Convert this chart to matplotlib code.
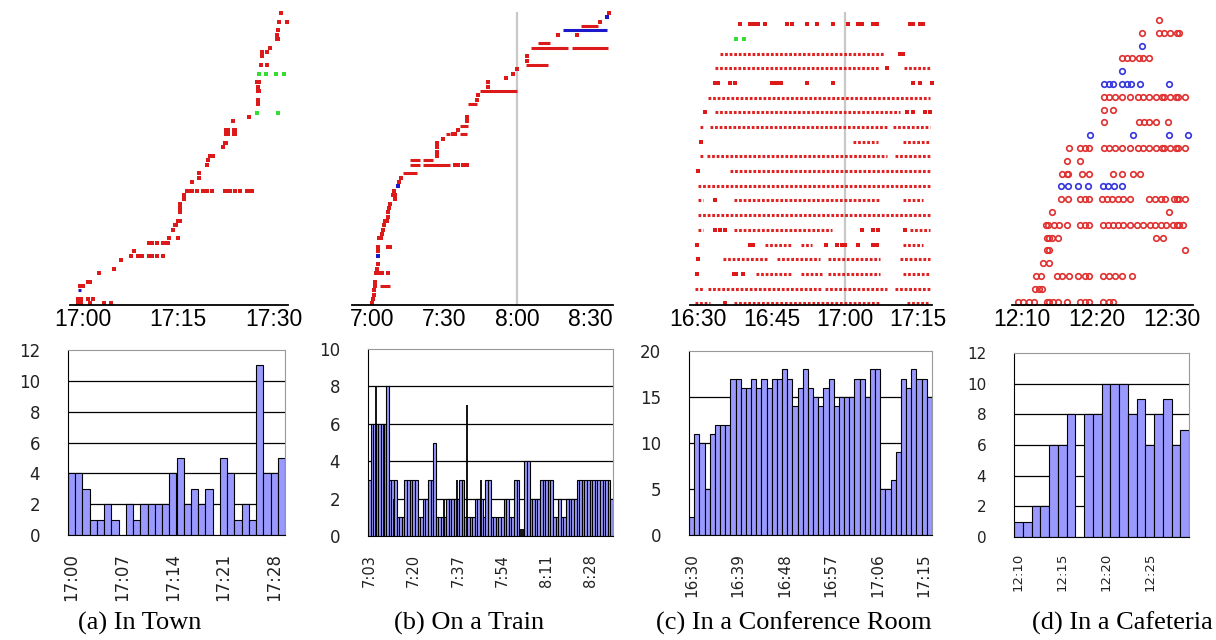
import matplotlib
matplotlib.use("Agg")
import matplotlib.pyplot as plt

# ---------------- data ----------------
# top row: node traces, x = minutes after first label, y = node row
town_rows = [
    (0, [-0.9, -0.3, 1.1, 3.3, 4.4]), (1, [-0.9, -0.3, 0.8, 1.5]),
    (4, [-0.5, -0.1]), (5, [0.8, 1.1]), (7, [2.5]), (8, [4.8]), (10, [6.0]),
    (11, [7.5, 8.7, 8.9, 9.2, 10.3, 10.8, 11.6, 12.5]), (12, [8.0]),
    (14, [10.3, 10.8, 11.6, 12.5, 12.9, 13.3]), (15, [13.6, 14.9]), (17, [14.1]),
    (18, [14.5, 14.7]), (19, [14.9, 15.3]), (21, [15.2]), (22, [15.2]), (23, [15.3]),
    (24, [15.9]), (25, [15.9]),
    (26, [16.3, 16.7, 17.1, 17.9, 18.9, 19.5, 20.3, 22.4, 22.8, 23.2, 24.0, 24.7, 25.9, 26.3, 26.6]),
    (28, [17.1]), (29, [18.2]), (30, [18.2]), (32, [19.5]), (33, [19.7]),
    (34, [20.0, 20.3, 20.5]), (36, [22.1]), (37, [22.3, 22.5]),
    (39, [22.5, 22.8, 23.7, 24.0]), (40, [22.5, 22.8, 23.7, 24.0]), (42, [23.6]),
    (43, [26.2]), (46, [27.5]), (47, [27.5]), (49, [27.5, 27.7]), (50, [27.5]),
    (51, [27.4, 27.8]), (55, [28.1, 29.0]), (57, [28.2]), (58, [28.2, 29.0]),
    (59, [29.4]), (61, [30.5, 30.8]), (62, [30.5]), (63, [30.8]), (65, [30.9, 32.1]),
    (67, [31.2]),
]
town_green = [(44, [27.4, 30.8]), (53, [27.8, 28.9, 30.4, 31.7])]
town_blue_runs = [(3, -0.9, -0.3)]

train_pts_t = [0.3, 0.7, 1.0, 1.1, 1.4, 1.4, 1.6, 2.1, 2.5, 2.5, 2.5, 3.2, 3.7, 4.4, 4.5,
               5.2, 5.5, 6.2, 6.6, 6.9, 7.3, 7.6, 8.9, 9.3, 9.6, 9.6, 11.4, 12.1,
               2.7, 4.1, 6.9, 6.9, 7.6, 34.3, 35.7, 37.8, 39.1, 33.7, 34.3,
               26.8, 26.8, 27.1, 27.1, 29.5, 35.7, 39.1, 39.1, 43.5, 43.7, 47.8, 47.8,
               55.2, 58.4, 59.8, 63.9, 63.9, 76.9, 84.5, 94.1, 97.9]
train_pts_row = [0, 1, 2, 3, 4, 5, 7, 8, 9, 12, 13, 15, 15, 16, 17,
                 18, 19, 19, 20, 21, 22, 23, 25, 26, 24, 25, 28, 29,
                 7, 7, 7, 13, 13, 32, 32, 32, 32, 39, 39,
                 34, 35, 36, 37, 38, 40, 42, 43, 47, 48, 50, 51,
                 52, 53, 54, 56, 57, 62, 62, 65, 67]
train_blue_t = [2.5, 11.0, 96.8]
train_blue_row = [11, 27, 66]
# dense runs: (row, start, end)
train_runs = [(4, 3.4, 7.6), (30, 13.0, 18.5), (32, 15.8, 19.9), (32, 21.3, 32.3),
              (33, 15.8, 19.9), (33, 21.3, 25.4), (39, 30.6, 32.3), (39, 36.4, 39.1),
              (41, 36.4, 39.8), (46, 39.8, 43.3), (49, 44.6, 59.8), (55, 63.6, 72.8),
              (59, 65.5, 81.0), (59, 82.4, 97.5), (60, 68.7, 73.5), (64, 86.1, 93.4)]
train_blue_runs = [(63, 79.0, 96.8)]

conf_runs = [
    (17, 4.4, 38.2), (16, 3.4, 37.2), (16, 42.0, 47.4), (14, 2.0, 47.4),
    (13, 3.4, 41.2), (12, 0.3, 1.0), (12, 2.4, 38.5), (12, 39.9, 47.4),
    (11, 31.7, 36.8), (11, 41.9, 47.4), (10, 0.3, 1.0), (10, 1.7, 38.5), (10, 40.2, 47.4),
    (9, 6.5, 47.4), (8, 0.0, 47.4), (7, 0.0, 1.0), (7, 7.2, 37.2), (7, 41.9, 46.0),
    (6, 0.0, 47.4), (5, 0.0, 1.0), (5, 7.2, 27.3), (5, 43.3, 47.4),
    (4, 13.6, 19.1), (4, 21.1, 23.2), (4, 41.9, 46.0),
    (3, 5.1, 14.0), (3, 16.0, 24.9), (3, 26.6, 37.2), (3, 41.2, 47.4),
    (2, 11.9, 19.1), (2, 21.1, 25.2), (2, 26.6, 37.2), (2, 41.9, 47.4),
    (1, -0.7, 1.0), (1, 2.0, 25.2), (1, 25.9, 38.5), (1, 40.2, 47.4),
    (0, -0.7, 2.4), (0, 7.2, 37.2), (0, 42.6, 47.4),
]
conf_dots = [
    (19, [8.5, 10.6, 11.3, 12.3, 13.6, 18.1, 19.1, 22.2, 24.2, 27.5, 30.7, 32.7, 33.4,
          35.8, 36.5, 43.3, 44.0, 45.3, 46.0]),
    (17, [41.2, 41.9]), (16, [38.5]),
    (15, [3.4, 4.1, 6.5, 7.5, 15.0, 15.7, 16.4, 17.0, 22.2, 27.5, 44.0, 45.3, 47.7]),
    (13, [1.4, 42.6, 44.0, 46.4, 47.4]), (11, [0.5]), (9, [0.0]), (7, [3.4]),
    (5, [3.4, 4.4, 5.5, 33.4, 35.8, 36.8, 42.3]),
    (4, [-0.3, 10.6, 11.2, 26.2, 28.3, 29.3, 30.0, 32.7, 35.8, 36.5]),
    (3, [0.0]), (2, [-0.3, 7.2, 7.8, 9.2]), (0, [5.5]),
]
conf_green = (18, [7.8, 9.4])

cafe_red = [
    (0, [-0.44, 0.22, 0.98, 1.64, 3.33, 3.64, 4.22, 4.89, 6.09, 7.78, 8.44, 9.02, 10.89, 11.69, 12.22]),
    (1, [1.78, 2.36, 2.67]),
    (2, [1.87, 2.53, 4.67, 5.42, 6.36, 7.56, 8.44, 9.02, 10.89, 11.69, 12.44, 13.33, 14.76]),
    (3, [2.89, 3.69]), (4, [3.42, 3.69, 21.78]),
    (5, [3.42, 3.64, 4.09, 4.89, 17.91, 18.8]),
    (6, [3.2, 3.56, 4.31, 5.02, 6.09, 7.78, 8.44, 9.02, 10.89, 11.56, 12.22, 12.89, 13.56,
         14.44, 15.33, 16.22, 17.11, 17.78, 18.53, 19.24, 20.13, 20.67, 21.02, 21.47]),
    (7, [4.0, 19.69]),
    (8, [5.24, 6.13, 7.78, 8.44, 9.02, 10.67, 11.33, 12.0, 12.89, 13.56, 14.44, 17.02,
         17.78, 18.53, 19.11, 20.31, 20.76, 21.02, 21.78]),
    (10, [5.42, 6.0, 6.22, 8.09, 8.98, 12.22, 13.33, 14.8, 15.78]),
    (11, [6.09, 7.78]),
    (12, [6.36, 7.78, 8.44, 9.02, 11.02, 11.69, 12.44, 13.33, 14.44, 15.56, 16.22, 17.02,
          17.91, 18.67, 18.98, 19.78, 20.53, 20.89, 21.78]),
    (14, [11.02, 15.69, 16.36, 17.02, 17.91, 19.56]),
    (15, [11.02, 12.22]),
    (16, [11.02, 11.69, 12.44, 13.33, 14.44, 15.56, 16.22, 17.02, 17.91, 18.67, 18.98,
          19.78, 20.53, 20.89, 21.78]),
    (19, [13.42, 14.09, 14.76, 15.64, 16.22, 16.98]),
    (21, [16.0, 18.36, 19.02, 19.78, 20.67, 20.98]),
    (22, [18.36]),
]
cafe_blue = [
    (9, [5.24, 6.13, 7.56, 8.89, 10.89, 11.56, 12.36, 13.42]),
    (13, [9.11, 14.8, 19.69, 22.13]),
    (17, [11.02, 11.69, 12.22, 13.42, 14.0, 14.53, 15.78, 19.69]),
    (18, [13.42]), (20, [16.0]),
]

# bottom row: neighbours per minute
town_counts = [4, 4, 3, 1, 1, 2, 1, 0, 2, 1, 2, 2, 2, 2, 4, 5, 2, 3, 2, 3,
               0, 5, 4, 1, 2, 1, 11, 4, 4, 5]
town_ticks = ["17:00", "17:07", "17:14", "17:21", "17:28"]

train_counts = [3, 6, 6, 6, 6, 6, 6, 8, 3, 3, 3, 1, 1, 1, 3, 3, 3, 3, 3, 1,
                1, 2, 2, 3, 3, 5, 1, 1, 1, 1, 2, 2, 2, 2, 2, 3, 3, 1, 1, 1,
                1, 2, 2, 2, 1, 3, 3, 1, 1, 1, 1, 1, 2, 2, 1, 1, 3, 3, 0, 0,
                4, 4, 2, 2, 2, 2, 3, 3, 3, 3, 3, 1, 1, 2, 1, 1, 2, 2, 2, 2,
                3, 3, 3, 3, 3, 3, 3, 3, 3, 3, 3, 3, 3, 2]
train_spike_at = [2.6, 5.6, 9.6, 28.8, 33.6, 37.4, 43.0, 58.3, 59.0]
train_spike_h = [8, 6, 2, 2, 3, 7, 3, 0.4, 0.4]
train_ticks = ["7:03", "7:20", "7:37", "7:54", "8:11", "8:28"]

conf_counts = [2, 11, 10, 5, 11, 12, 12, 12, 17, 17, 16, 16, 17, 16, 17, 16, 17, 17,
               18, 17, 14, 16, 18, 16, 15, 14, 16, 17, 14, 15, 15, 15, 17, 17, 15, 18,
               18, 5, 5, 6, 9, 17, 16, 18, 17, 17, 15]
conf_ticks = ["16:30", "16:39", "16:48", "16:57", "17:06", "17:15"]

cafe_counts = [1, 1, 2, 2, 6, 6, 8, 0, 8, 8, 10, 10, 10, 8, 9, 6, 8, 9, 6, 7]
cafe_ticks = ["12:10", "12:15", "12:20", "12:25"]

captions = ["(a) In Town", "(b) On a Train", "(c) In a Conference Room", "(d) In a Cafeteria"]

RED = "#dd1a1a"
BLUE = "#1a1acc"
GREEN = "#33dd33"
BAR = "#9999ff"

W, H = 1216, 640
fig = plt.figure(figsize=(W / 100, H / 100), dpi=100)


def px_axes(x0, y0, x1, y1):
    return fig.add_axes([x0 / W, 1 - y1 / H, (x1 - x0) / W, (y1 - y0) / H])


def trace_axes(box, xlim, ylim, ticks, labels):
    ax = px_axes(*box)
    ax.set_xlim(*xlim)
    ax.set_ylim(*ylim)
    for s in ["top", "right", "left"]:
        ax.spines[s].set_visible(False)
    ax.spines["bottom"].set_linewidth(1.3)
    ax.set_yticks([])
    ax.set_xticks(ticks, labels)
    ax.tick_params(axis="x", length=0, pad=2, labelsize=16.5)
    for lab in ax.get_xticklabels():
        lab.set_family("Liberation Sans")
    return ax


def dots(ax, rows, color, ms=2.8):
    for r, ts in rows:
        ax.plot(ts, [r] * len(ts), "s", ms=ms, color=color, mew=0, clip_on=False)


# (a) town traces
ax = trace_axes((70, 12, 288, 305), (-2.1, 32.3), (-0.4, 67.2), [0, 15, 30],
                ["17:00", "17:15", "17:30"])
dots(ax, town_rows, RED)
dots(ax, town_green, GREEN)
for r, a, b in town_blue_runs:
    ax.hlines(r, a, b, color=BLUE, lw=2.2)

# (b) train traces
ax = trace_axes((352, 12, 613, 305), (-8.1, 99.4), (-0.4, 67.2), [0, 30, 60, 90],
                ["7:00", "7:30", "8:00", "8:30"])
ax.axvline(60, color="#c8c8c8", lw=1.6, zorder=0)
ax.plot(train_pts_t, train_pts_row, "s", ms=2.4, color=RED, mew=0, clip_on=False)
ax.plot(train_blue_t, train_blue_row, "s", ms=2.4, color=BLUE, mew=0, clip_on=False)
for r, a, b in train_runs:
    ax.hlines(r, a, b, color=RED, lw=2.2)
for r, a, b in train_blue_runs:
    ax.hlines(r, a, b, color=BLUE, lw=2.2)

# (c) conference traces
ax = trace_axes((690, 12, 932, 305), (-1.7, 47.8), (-0.12, 19.84), [0, 15, 30, 45],
                ["16:30", "16:45", "17:00", "17:15"])
ax.axvline(30, color="#c8c8c8", lw=1.6, zorder=0)
for r, a, b in conf_runs:
    ax.hlines(r, a, b, color="#e02222", lw=2.2, linestyles=(0, (0.9, 0.6)))
dots(ax, conf_dots, RED, ms=2.4)
dots(ax, [conf_green], GREEN, ms=2.6)

# (d) cafeteria traces
ax = trace_axes((1012, 12, 1193, 305), (-1.29, 22.84), (-0.26, 22.63), [0, 10, 20],
                ["12:10", "12:20", "12:30"])
for rows, col in [(cafe_red, "#e03030"), (cafe_blue, "#3535dd")]:
    for r, ts in rows:
        ax.plot(ts, [r] * len(ts), "o", ms=4.0, mfc="none", mec=col, mew=1.2, clip_on=False)


# bottom bar charts
def bar_panel(box, counts, ymax, ystep, tick_every, ticks, xfs, yfs, xpad):
    ax = px_axes(*box)
    n = len(counts)
    ax.bar(range(n), counts, width=1.0, color=BAR, edgecolor="black", linewidth=0.8, zorder=2)
    ax.set_xlim(-0.5, n - 0.5)
    ax.set_ylim(0, ymax)
    yt = list(range(0, ymax + 1, ystep))
    ax.set_yticks(yt)
    ax.hlines(yt[1:-1], -0.5, n - 0.5, color="black", lw=0.9, zorder=1)
    ax.set_xticks([i * tick_every for i in range(len(ticks))], ticks, rotation=90)
    ax.tick_params(axis="x", length=0, pad=xpad, labelsize=xfs, labelcolor="#222222")
    ax.tick_params(axis="y", length=0, pad=20, labelsize=yfs, labelcolor="#222222")
    ax.spines["top"].set_color("#999999")
    ax.spines["right"].set_color("#999999")
    ax.spines["left"].set_color("black")
    ax.spines["bottom"].set_color("black")
    return ax


bar_panel((68, 350, 285, 535), town_counts, 12, 2, 7, town_ticks, 12, 12, 13)
ax = bar_panel((368, 349, 613, 536), train_counts, 10, 2, 17, train_ticks, 10.5, 12, 13)
ax.vlines(train_spike_at, 0, train_spike_h, color="black", lw=1.3, zorder=3)
bar_panel((689, 351, 932, 535), conf_counts, 20, 5, 9, conf_ticks, 11, 12, 13)
bar_panel((1014, 353, 1189, 537), cafe_counts, 12, 2, 5, cafe_ticks, 9.5, 11, 11)

for x, cap in zip([140, 469, 794, 1122], captions):
    fig.text(x / W, 1 - 623 / H, cap, ha="center", va="center", fontsize=19,
             family="Liberation Serif")

fig.savefig("out.png", dpi=100)
